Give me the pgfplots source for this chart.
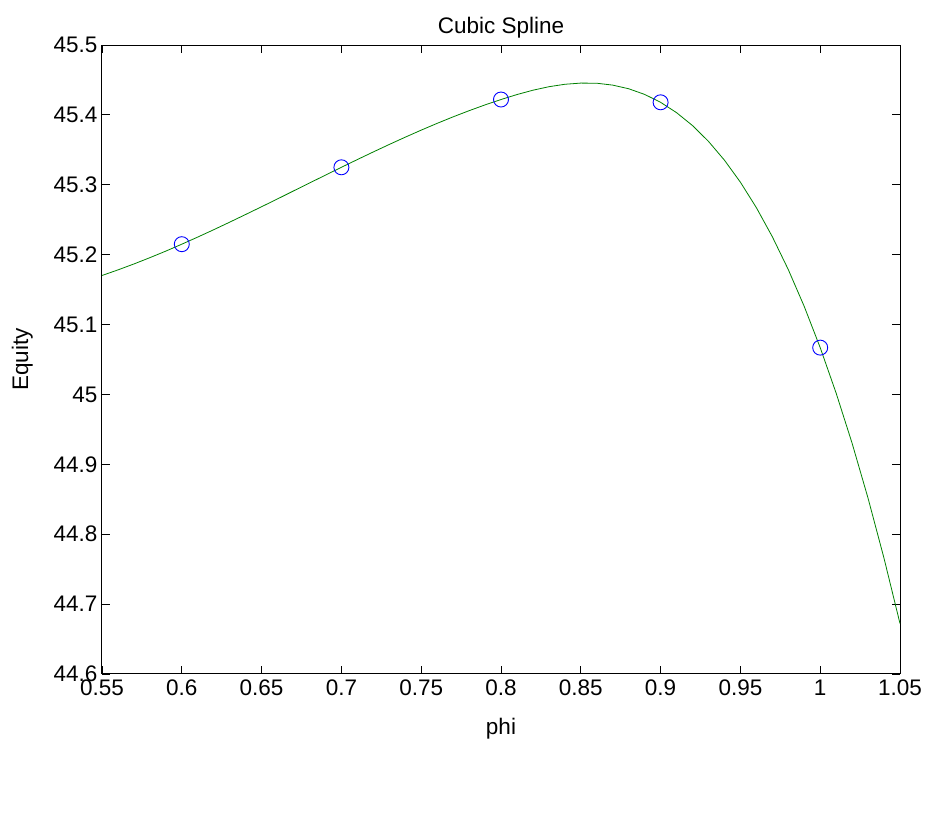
\documentclass[border=0pt]{standalone}
\usepackage{fontspec}
\setmainfont{Liberation Sans}
\usepackage{pgfplots}
\pgfplotsset{compat=1.18}
\definecolor{mgreen}{rgb}{0,0.5,0}
\begin{document}
\begin{tikzpicture}
\useasboundingbox (-102pt,-148pt) rectangle (825pt,674pt);
\begin{axis}[
  at={(0,0)}, anchor=south west,
  scale only axis, width=798pt, height=629pt,
  xmin=0.55, xmax=1.05, ymin=44.6, ymax=45.5,
  xtick={0.55,0.6,...,1.06},
  ytick={44.6,44.7,...,45.51},
  xticklabels={0.55,0.6,0.65,0.7,0.75,0.8,0.85,0.9,0.95,1,1.05},
  yticklabels={44.6,44.7,44.8,44.9,45,45.1,45.2,45.3,45.4,45.5},
  tick align=inside, major tick length=8pt,
  tick style={black, line width=0.8pt},
  axis line style={line width=1pt},
  font=\fontsize{22.5}{26}\selectfont,
  /pgf/number format/assume math mode=true,
  xticklabel style={yshift=-2pt},
  yticklabel style={xshift=-1pt},
  title={Cubic Spline},
  title style={yshift=-3pt},
  xlabel={phi}, ylabel={Equity},
  xlabel style={yshift=-16pt},
  ylabel style={yshift=14pt},
]
\addplot[mgreen, line width=0.8pt] coordinates {
(0.55,45.1702)(0.56,45.1782)(0.57,45.1867)(0.58,45.1957)(0.59,45.2051)
(0.60,45.2150)(0.61,45.2252)(0.62,45.2357)(0.63,45.2465)(0.64,45.2575)
(0.65,45.2686)(0.66,45.2798)(0.67,45.2912)(0.68,45.3025)(0.69,45.3138)
(0.70,45.3250)(0.71,45.3361)(0.72,45.3470)(0.73,45.3577)(0.74,45.3681)
(0.75,45.3782)(0.76,45.3879)(0.77,45.3972)(0.78,45.4060)(0.79,45.4143)
(0.80,45.4220)(0.81,45.4291)(0.82,45.4353)(0.83,45.4403)(0.84,45.4438)
(0.85,45.4455)(0.86,45.4453)(0.87,45.4426)(0.88,45.4374)(0.89,45.4293)
(0.90,45.4180)(0.91,45.4032)(0.92,45.3847)(0.93,45.3621)(0.94,45.3352)
(0.95,45.3037)(0.96,45.2673)(0.97,45.2257)(0.98,45.1787)(0.99,45.1259)
(1.00,45.0670)(1.01,45.0018)(1.02,44.9301)(1.03,44.8514)(1.04,44.7655)
(1.05,44.6722)
};
\addplot[blue, only marks, mark=o, mark size=7.5pt, line width=0.9pt] coordinates {
(0.6,45.215)(0.7,45.325)(0.8,45.422)(0.9,45.418)(1.0,45.067)
};
\end{axis}
\end{tikzpicture}
\end{document}
